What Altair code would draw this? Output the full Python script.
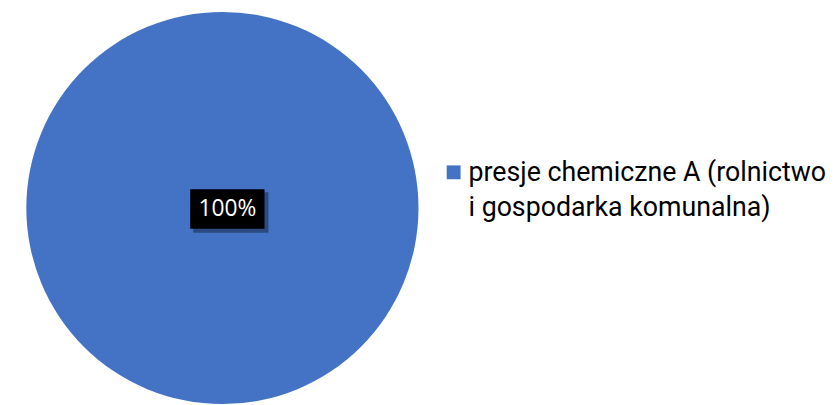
import altair as alt
import pandas as pd

categories = ["presje chemiczne A (rolnictwo\ni gospodarka komunalna)"]
values = [100]
labels = ["100%"]
colors = ["#4472C4"]

df = pd.DataFrame({"cat": categories, "val": values, "label": labels})

color = alt.Color("cat:N", scale=alt.Scale(domain=categories, range=colors), legend=None)

base = alt.Chart(df)

pie = base.mark_arc(outerRadius=198, stroke=None).encode(
    theta=alt.Theta("val:Q", stack=True),
    color=color,
    x=alt.value(216.5),
    y=alt.value(200),
)

shadow = base.mark_rect(color="#000000", opacity=0.35).encode(
    x=alt.value(187), x2=alt.value(263), y=alt.value(184), y2=alt.value(225)
)
box = base.mark_rect(color="#000000").encode(
    x=alt.value(184), x2=alt.value(259), y=alt.value(181), y2=alt.value(221)
)
lbl = base.mark_text(font="Open Sans", fontSize=23, color="white", align="center", baseline="middle").encode(
    text="label:N", x=alt.value(221.5), y=alt.value(201)
)

sq = base.mark_square(size=196, opacity=1).encode(
    color=color, x=alt.value(450), y=alt.value(164)
)
legtext = base.mark_text(font="Roboto", fontSize=27, color="#000000", align="left",
                         baseline="alphabetic", lineBreak="\n", lineHeight=35).encode(
    text="cat:N", x=alt.value(465), y=alt.value(173)
)

chart = alt.layer(pie, shadow, box, lbl, sq, legtext).properties(
    width=827, height=397, padding=0, autosize=alt.AutoSizeParams(type="none")
).configure_view(stroke=None)

chart.save("out.html", embed_options={"renderer": "svg", "actions": False})
